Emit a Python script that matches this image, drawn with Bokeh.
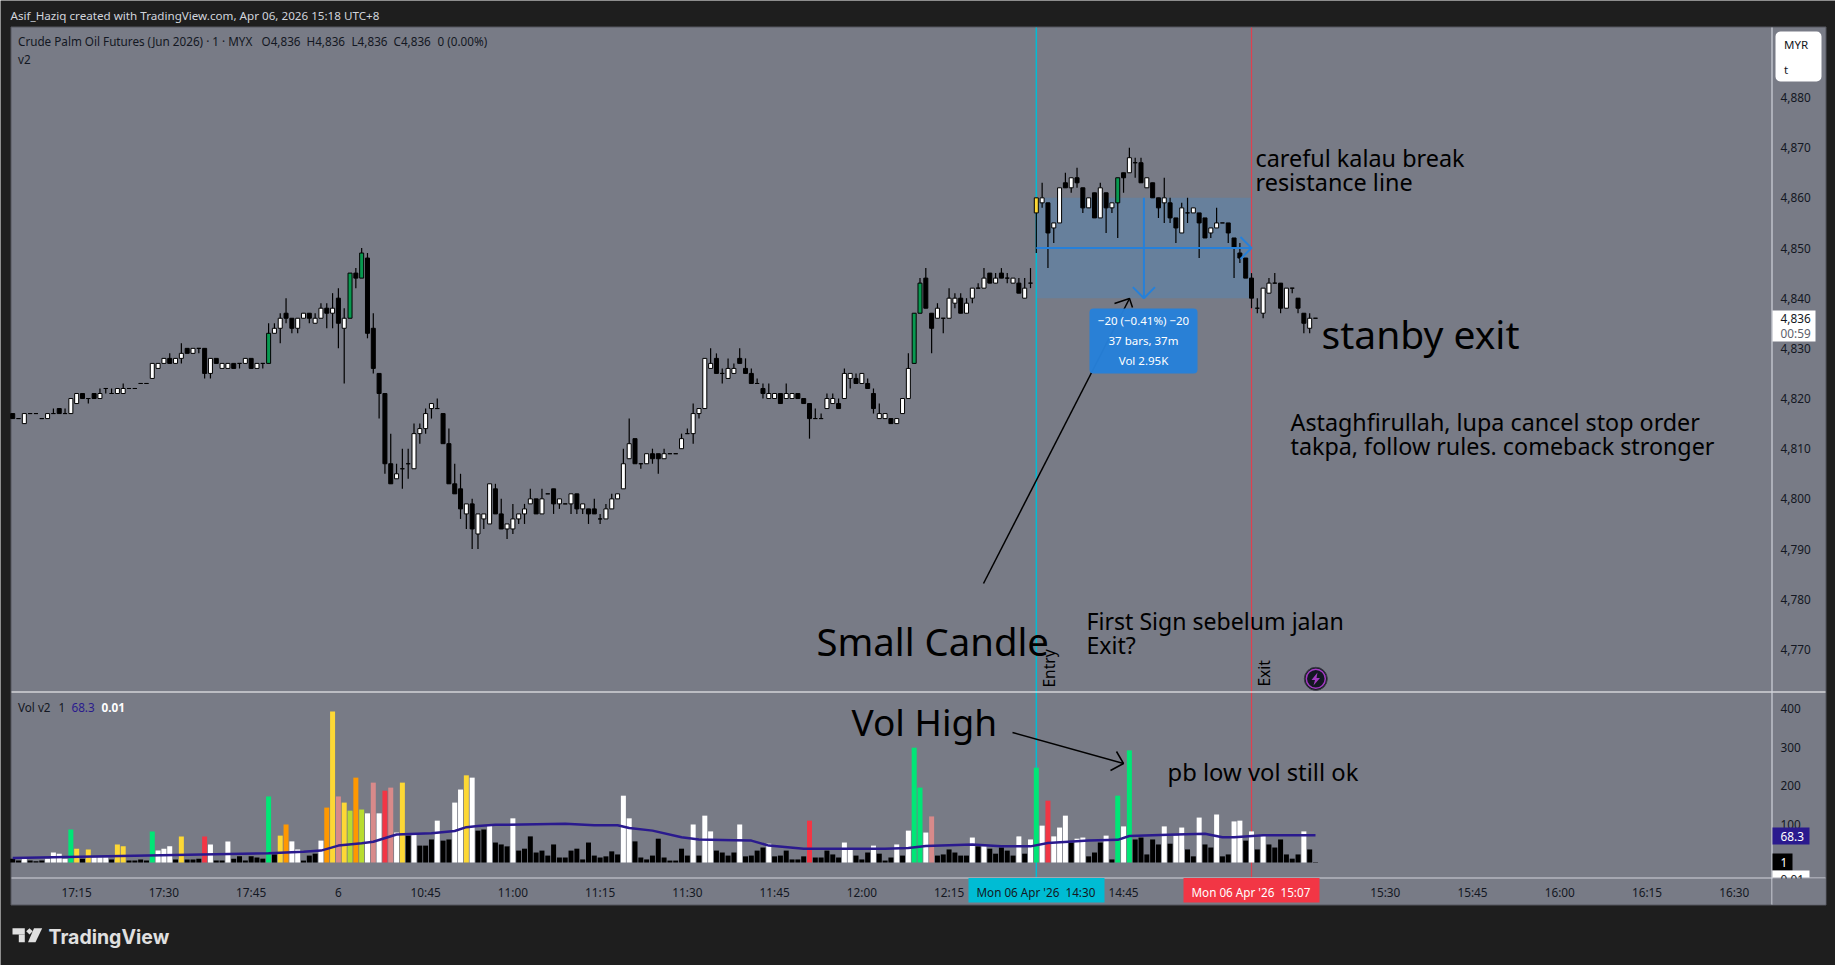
from bokeh.plotting import figure
from bokeh.embed import file_html
from bokeh.resources import INLINE
from bokeh.models import (Range1d, LinearAxis, FixedTicker, Label, BoxAnnotation,
                          PolyAnnotation, NumeralTickFormatter)

# ---- data ----
opens = [4817,4816,4815,4817,4817,4816,4816,4817,4818,4817,4817,4819,4821,4820,4821,4820,4822,4821,4821,4821,
 4822,4822,4823,4823,4824,4826,4827,4828,4827,4828,4830,4829,4830,4830,4825,4828,4826,4826,4827,4827,
 4827,4828,4826,4827,4827,4833,4834,4837,4836,4834,4836,4837,4835,4836,4838,4837,4840,4834,4836,4845,
 4844,4848,4834,4825,4821,4807,4804,4806,4807,4806,4813,4814,4818,4818,4817,4811,4803,4802,4797,4799,
 4793,4796,4795,4802,4797,4794,4794,4796,4797,4799,4800,4797,4801,4802,4799,4799,4799,4801,4798,4798,
 4798,4796,4796,4798,4800,4802,4808,4812,4807,4807,4809,4809,4808,4809,4809,4810,4813,4813,4817,4818,
 4826,4828,4825,4824,4825,4828,4826,4825,4823,4822,4820,4820,4821,4820,4820,4821,4820,4819,4816,4816,
 4818,4819,4819,4820,4824,4824,4823,4823,4821,4816,4816,4816,4815,4817,4820,4827,4837,4844,4837,4836,
 4836,4836,4839,4840,4837,4840,4842,4842,4845,4843,4845,4844,4843,4843,4840,4843,4857,4859,4859,4854,
 4855,4863,4862,4864,4862,4858,4861,4856,4861,4858,4859,4865,4865,4867,4867,4862,4863,4860,4859,4859,
 4856,4853,4857,4857,4857,4856,4853,4854,4855,4855,4852,4849,4848,4844,4838,4837,4841,4843,4843,4838,
 4842,4840,4837,4834,4836]
highs = [4817,4816,4817,4817,4817,4816,4817,4818,4818,4818,4820,4821,4821,4820,4821,4822,4822,4822,4822,4823,
 4822,4822,4823,4823,4827,4827,4828,4829,4828,4831,4830,4830,4830,4830,4828,4828,4827,4827,4827,4827,
 4828,4828,4827,4827,4835,4835,4837,4840,4836,4836,4837,4837,4837,4839,4839,4841,4842,4838,4845,4846,
 4850,4849,4837,4825,4821,4813,4807,4810,4810,4815,4815,4818,4819,4820,4817,4814,4807,4805,4799,4800,
 4797,4797,4803,4803,4800,4795,4799,4797,4799,4802,4800,4802,4801,4802,4800,4799,4801,4801,4799,4798,
 4800,4797,4799,4801,4801,4810,4816,4812,4807,4809,4810,4809,4810,4809,4809,4813,4814,4819,4818,4828,
 4830,4829,4826,4828,4827,4830,4828,4826,4824,4823,4823,4821,4821,4823,4821,4821,4820,4819,4818,4817,
 4821,4821,4820,4826,4825,4825,4825,4824,4822,4819,4817,4816,4816,4820,4829,4837,4844,4846,4837,4839,
 4836,4842,4841,4841,4840,4842,4843,4846,4845,4845,4846,4845,4844,4844,4844,4846,4860,4863,4859,4855,
 4862,4865,4864,4866,4862,4860,4861,4863,4861,4859,4864,4865,4870,4868,4868,4864,4863,4860,4864,4860,
 4856,4859,4860,4858,4857,4856,4854,4858,4855,4855,4852,4851,4848,4845,4840,4842,4844,4845,4843,4842,
 4842,4840,4837,4837,4836]
lows = [4816,4816,4815,4817,4817,4816,4816,4817,4817,4817,4817,4819,4820,4819,4820,4820,4821,4821,4821,4821,
 4822,4822,4823,4823,4824,4826,4827,4827,4827,4827,4829,4829,4829,4824,4824,4827,4826,4826,4826,4826,
 4827,4826,4826,4826,4827,4833,4831,4835,4833,4833,4836,4835,4835,4836,4834,4834,4830,4823,4836,4842,
 4844,4832,4825,4816,4805,4803,4804,4802,4804,4806,4811,4813,4816,4818,4811,4803,4801,4796,4794,4790,
 4790,4794,4795,4797,4794,4792,4793,4795,4795,4799,4797,4797,4801,4797,4798,4799,4797,4797,4797,4795,
 4797,4795,4796,4798,4800,4802,4808,4807,4806,4807,4807,4805,4808,4809,4809,4810,4813,4811,4816,4818,
 4826,4825,4823,4824,4825,4827,4825,4823,4823,4820,4820,4820,4819,4820,4820,4820,4819,4812,4816,4816,
 4818,4819,4818,4820,4822,4823,4823,4822,4817,4816,4816,4815,4815,4817,4820,4827,4837,4838,4829,4836,
 4833,4836,4838,4837,4837,4839,4842,4842,4843,4843,4844,4843,4843,4841,4840,4842,4849,4858,4846,4851,
 4855,4862,4861,4862,4857,4858,4856,4856,4853,4857,4852,4861,4865,4864,4863,4862,4860,4856,4855,4855,
 4851,4853,4855,4857,4848,4852,4852,4854,4855,4851,4844,4847,4844,4838,4837,4836,4841,4843,4837,4838,
 4841,4837,4833,4833,4836]
closes = [4816,4816,4817,4817,4817,4816,4817,4817,4817,4817,4820,4821,4820,4820,4820,4821,4822,4821,4822,4822,
 4822,4822,4823,4823,4827,4827,4828,4827,4828,4829,4829,4830,4830,4825,4828,4827,4827,4827,4826,4827,
 4828,4826,4827,4827,4833,4834,4836,4836,4834,4836,4837,4836,4836,4838,4837,4838,4835,4836,4845,4844,
 4849,4833,4826,4821,4807,4803,4805,4806,4807,4813,4814,4817,4819,4818,4811,4803,4801,4798,4799,4794,
 4797,4797,4803,4797,4794,4795,4796,4797,4798,4800,4797,4800,4801,4799,4800,4799,4801,4798,4799,4797,
 4797,4796,4798,4800,4801,4807,4811,4807,4807,4809,4808,4808,4809,4809,4809,4812,4813,4817,4818,4828,
 4827,4825,4825,4826,4826,4827,4825,4823,4823,4821,4821,4821,4819,4821,4821,4820,4819,4816,4816,4816,
 4820,4820,4818,4825,4825,4823,4825,4822,4818,4817,4817,4815,4816,4820,4826,4837,4843,4838,4834,4838,
 4836,4840,4840,4837,4839,4842,4842,4844,4843,4844,4844,4844,4844,4841,4842,4843,4860,4860,4853,4855,
 4862,4862,4864,4863,4858,4860,4856,4862,4858,4859,4864,4864,4868,4867,4863,4864,4860,4858,4860,4856,
 4854,4858,4857,4858,4855,4852,4854,4855,4855,4853,4850,4848,4844,4840,4838,4842,4843,4843,4838,4842,
 4842,4838,4835,4836,4836]
green_bars = [44,58,60,155,156,190]
gold_bars = [176]

volumes = [10,5,10,5,3,5,10,26,23,10,86,36,10,34,13,13,13,8,47,42,
 5,5,8,5,81,31,36,42,8,68,8,8,10,68,47,5,5,55,10,16,
 5,16,13,10,172,21,70,99,55,34,5,18,23,57,143,393,172,156,135,221,
 138,128,208,128,187,195,78,208,70,73,44,44,60,109,57,60,156,190,227,221,
 83,86,96,52,47,42,115,31,36,68,26,31,18,47,13,13,31,36,8,52,
 18,13,16,29,21,174,115,55,13,8,18,62,13,5,5,36,18,99,18,122,
 81,31,26,18,26,99,16,18,31,39,49,16,18,31,8,8,16,109,13,13,
 31,21,13,52,34,18,8,26,44,23,5,13,47,18,83,299,195,78,120,18,
 21,34,26,18,18,65,42,42,36,23,39,31,18,68,23,60,247,96,161,68,
 91,122,52,62,65,16,26,52,70,8,174,94,292,60,65,21,60,47,94,49,
 70,91,34,16,117,47,39,125,16,21,107,109,57,81,34,70,47,39,60,21,
 10,21,81,34,1]
K,W,G,Y,O_,P,L_,R = "#000000","#ffffff","#00e676","#fdd835","#ff9800","#d88a8a","#b8dc30","#f23645"
vol_colors = [K,K,W,K,K,K,W,W,W,W,G,Y,K,Y,W,W,W,K,Y,Y,
 K,K,K,K,G,W,W,W,K,Y,K,K,K,R,W,K,K,W,K,K,
 K,K,K,K,G,K,Y,O_,W,W,K,K,K,W,O_,Y,P,Y,L_,O_,
 L_,W,P,W,R,P,W,Y,K,W,K,K,K,W,K,K,W,W,Y,W,
 K,K,W,K,K,K,W,K,K,K,K,K,K,K,K,K,K,K,K,K,
 K,K,K,K,K,W,W,K,K,K,K,K,K,K,K,K,K,W,K,W,
 W,K,K,K,K,W,K,K,K,K,W,K,K,K,K,K,K,R,K,K,
 K,K,K,W,W,K,K,K,W,K,K,K,W,K,W,G,G,W,P,K,
 K,K,K,K,K,W,K,W,K,K,K,K,K,W,K,W,G,W,R,W,
 W,W,K,W,W,K,K,K,W,K,G,W,G,K,K,K,K,K,W,K,
 W,W,K,K,W,K,K,W,K,K,W,W,K,W,K,W,K,K,K,K,
 K,K,W,K,K]

ma_bars = [0,44,50,53,56,60,62,66,72,76,78,80,83,95,100,104,106,110,115,118,124,127,130,136,150,154,157,161,165,170,175,178,185,190,192,200,205,208,210,215,224]
ma_vals = [12,24,28,31,44,50,54,73,76,82,92,95,98,101,97,97,90,83,66,60,58,57,44,36,36,38,43,45,47,42,42,51,57,59,69,73,75,66,66,71,71]

price_ticks = [4770,4780,4790,4800,4810,4820,4830,4840,4850,4860,4870,4880]
vol_ticks = [100,200,300,400]
time_ticks = {11:"17:15",26:"17:30",41:"17:45",56:"6",71:"10:45",86:"11:00",101:"11:15",116:"11:30",
              131:"11:45",146:"12:00",161:"12:15",191:"14:45",236:"15:30",251:"15:45",266:"16:00",
              281:"16:15",296:"16:30"}
entry_bar, exit_bar = 176, 213
zone_top, zone_mid, zone_bottom = 4860, 4850, 4840

# ---- pixel <-> data helpers for annotations ----
X0, DX = 12.2, 5.816
PY0, PK = 97.0, 5.017
VB, VK = 862.0, 0.384
fx = lambda px: (px - X0) / DX
fy = lambda py: 4880 - (py - PY0) / PK
fv = lambda py: (VB - py) / VK

PANE = "#787b86"; DARK = "#1e1e1e"; INK = "#131722"; FONT = "Noto Sans"; BLUE = "#2680d9"

p = figure(width=1835, height=965, output_backend="svg", toolbar_location=None,
           x_range=Range1d(fx(0), fx(1835)), y_range=Range1d(fy(965), fy(0)),
           x_axis_type=None, y_axis_type=None,
           min_border_left=0, min_border_right=0, min_border_top=0, min_border_bottom=0)
p.extra_y_ranges = {"vol": Range1d(fv(965), fv(0))}
p.background_fill_color = DARK
p.border_fill_color = DARK
p.outline_line_color = None
p.grid.visible = False

# chart panel
p.quad(left=[fx(10.5)], right=[fx(1825.5)], top=[fy(26.5)], bottom=[fy(904.5)],
       fill_color=PANE, line_color="#55575e", line_width=1)

# trading zone
p.quad(left=[entry_bar], right=[exit_bar], top=[zone_top], bottom=[zone_bottom],
       fill_color="#2196f3", fill_alpha=0.2, line_color=None)
# vertical markers
p.segment([entry_bar], [fy(27)], [entry_bar], [fy(877)], line_color="#00bcd4", line_width=1.5)
p.segment([exit_bar], [fy(27)], [exit_bar], [fy(877)], line_color="#f23645", line_width=1.2, line_alpha=0.85)

# candles
n = len(closes)
xs = list(range(n))
p.segment(xs, highs, xs, lows, line_color="#000000", line_width=1.2)
body = []
for i in xs:
    if i in green_bars: body.append("#089950")
    elif i in gold_bars: body.append("#fdd835")
    elif closes[i] > opens[i]: body.append("#ffffff")
    else: body.append("#000000")
p.vbar(x=xs, top=opens, bottom=closes, width=0.69, fill_color=body, line_color="#000000", line_width=1)

# volume
vx = list(range(len(volumes)))
p.vbar(x=vx, top=volumes, bottom=[0]*len(vx), width=0.86, fill_color=vol_colors, line_color=None, y_range_name="vol")
p.line(ma_bars, ma_vals, line_color="#2a1a8e", line_width=2.5, y_range_name="vol")

# position tool
p.segment([entry_bar], [zone_mid], [exit_bar], [zone_mid], line_color=BLUE, line_width=2)
mid_bar = (entry_bar + exit_bar) / 2
p.segment([mid_bar], [zone_top], [mid_bar], [zone_bottom], line_color=BLUE, line_width=2)
p.line([mid_bar-1.9, mid_bar, mid_bar+1.9], [zone_bottom+2.2, zone_bottom, zone_bottom+2.2], line_color=BLUE, line_width=2)
p.line([exit_bar-1.9, exit_bar, exit_bar-1.9], [zone_mid+2.2, zone_mid, zone_mid-2.2], line_color=BLUE, line_width=2)

# hand drawn arrows
p.line([fx(983), fx(1129)], [fy(583), fy(298)], line_color="#000000", line_width=1.5)
p.line([fx(1114), fx(1129), fx(1132)], [fy(303), fy(298), fy(307)], line_color="#000000", line_width=1.5)
p.line([fx(1012), fx(1123)], [fy(732), fy(763)], line_color="#000000", line_width=1.5)
p.line([fx(1116), fx(1123), fx(1110)], [fy(751), fy(763), fy(770)], line_color="#000000", line_width=1.5)

# signal icon
p.scatter([fx(1315.3)], [fy(678.3)], size=23, marker="circle", fill_color="#131722", line_color="#3a3c44", line_width=1)
p.scatter([fx(1315.3)], [fy(678.3)], size=19, marker="circle", fill_color="#131722", line_color="#a13bc0", line_width=1.5)
p.patch([fx(v) for v in (1317,1311,1314.5,1313,1319.5,1316)],
        [fy(v) for v in (672,679.5,679.5,685,677.5,677.5)], fill_color="#a13bc0", line_color=None)

# pane separators
p.segment([fx(11)], [fy(691.5)], [fx(1825)], [fy(691.5)], line_color="#ffffff", line_width=1.2)
p.segment([fx(11)], [fy(877.5)], [fx(1825)], [fy(877.5)], line_color="#d1d4dc", line_width=1.2)
p.segment([fx(1771.5)], [fy(27)], [fx(1771.5)], [fy(904)], line_color="#d1d4dc", line_width=1.2)

# axes: pinned inside the frame so the whole panel stays grey
pa = LinearAxis(ticker=FixedTicker(ticks=price_ticks), formatter=NumeralTickFormatter(format="0,0"),
                fixed_location=fx(1774))
va = LinearAxis(ticker=FixedTicker(ticks=vol_ticks), y_range_name="vol", fixed_location=fx(1774))
ta = LinearAxis(ticker=FixedTicker(ticks=list(time_ticks)), major_label_overrides=time_ticks, fixed_location=fy(877))
for ax in (pa, va, ta):
    ax.axis_line_color = None
    ax.major_tick_line_color = None
    ax.minor_tick_line_color = None
    ax.major_label_text_font = FONT
    ax.major_label_text_font_size = "11.8px"
    ax.major_label_text_color = INK
    ax.major_label_standoff = 0
p.add_layout(pa, "right"); p.add_layout(va, "right"); p.add_layout(ta, "below")

def box(l, r, t, b, color, radius=0, alpha=1.0):
    p.add_layout(BoxAnnotation(left=fx(l), right=fx(r), top=fy(t), bottom=fy(b), fill_color=color,
                               fill_alpha=alpha, line_color=None, border_radius=radius))

def text(px, py, s, size=12, color=INK, align="left", bold=False, angle=0, font=FONT):
    p.add_layout(Label(x=fx(px), y=fy(py), text=s, text_font=font, text_font_size=f"{size}px", text_color=color,
                       text_align=align, text_baseline="middle",
                       text_font_style="bold" if bold else "normal", angle=angle, angle_units="deg"))

# header / legends
text(10, 14.5, "Asif_Haziq created with TradingView.com, Apr 06, 2026 15:18 UTC+8", 11.65, "#d1d4dc")
text(17.5, 40.5, "Crude Palm Oil Futures (Jun 2026) · 1 · MYX", 11.7)
for px, s in ((261,"O4,836"),(306,"H4,836"),(351,"L4,836"),(393,"C4,836"),(437,"0 (0.00%)")):
    text(px, 40.5, s, 11.7)
text(17.5, 58, "v2", 11.7)
text(17.5, 706.5, "Vol v2", 11.7); text(58, 706.5, "1", 11.7)
text(71, 706.5, "68.3", 11.7, "#2a1a8e"); text(101, 706.5, "0.01", 11.7, "#ffffff", bold=True)

# annotations
NOTE = "#000000"
text(816, 640, "Small Candle", 38.3, NOTE)
text(1255, 157, "careful kalau break", 23.4, NOTE)
text(1255, 181, "resistance line", 23.4, NOTE)
text(1321, 333, "stanby exit", 39, NOTE)
text(1290, 421, "Astaghfirullah, lupa cancel stop order", 23.3, NOTE)
text(1290, 445, "takpa, follow rules. comeback stronger", 23.3, NOTE)
text(1086, 620, "First Sign sebelum jalan", 23.1, NOTE)
text(1086, 644, "Exit?", 23.1, NOTE)
text(851, 721, "Vol High", 37, NOTE)
text(1167, 771, "pb low vol still ok", 23.8, NOTE)
text(1048, 687, "Entry", 15.5, NOTE, angle=90)
text(1263, 686, "Exit", 15.5, NOTE, angle=90)

# measure box
box(1089, 1197, 308, 373, BLUE, radius=4, alpha=0.97)
text(1143, 319.5, "−20 (−0.41%) −20", 11.5, "#ffffff", "center")
text(1143, 339.5, "37 bars, 37m", 11.5, "#ffffff", "center")
text(1143, 359.5, "Vol 2.95K", 11.5, "#ffffff", "center")

# time axis flags
box(968, 1104, 877.5, 902, "#00bcd4")
text(976, 891, "Mon 06 Apr '26", 11.7)
text(1065, 891, "14:30", 11.7)
box(1183, 1319, 877.5, 902, "#f23645")
text(1191, 891, "Mon 06 Apr '26", 11.7, "#ffffff")
text(1280, 891, "15:07", 11.7, "#ffffff")

# price scale badges
box(1775, 1821, 31, 81, "#ffffff", radius=5)
text(1783.5, 43.5, "MYR", 11.5); text(1783.5, 68.5, "t", 11.5)
box(1772, 1815, 310, 341, "#ffffff")
text(1780, 318, "4,836", 11.8); text(1780, 332, "00:59", 11.8, "#5d606b")
box(1772, 1809, 827, 844, "#2a1a8e")
text(1780, 835.5, "68.3", 11.8, "#ffffff")
box(1772, 1792, 853, 870, "#000000")
text(1780, 861.5, "1", 11.8, "#ffffff")
box(1772, 1809, 870, 877, "#ffffff")
text(1780, 878.5, "0.01", 11.8)
box(1772, 1825, 878, 904, PANE)

# footer logo + wordmark
box(12, 24.3, 927.7, 934, "#e0e0e0")
box(18.3, 24.3, 934, 941.7, "#e0e0e0")
p.add_layout(PolyAnnotation(xs=[fx(v) for v in (26,29,32,32,29,26)], ys=[fy(v) for v in (930.5,927.7,930.5,931,934,931)],
                            fill_color="#e0e0e0", fill_alpha=1, line_color=None))
p.add_layout(PolyAnnotation(xs=[fx(v) for v in (33.5,41.7,35,27.5)], ys=[fy(v) for v in (927.7,927.7,941.7,941.7)],
                            fill_color="#e0e0e0", fill_alpha=1, line_color=None))
text(48, 936, "TradingView", 19.5, "#e0e0e0", bold=True, font="Inter")

open("out.html", "w").write(file_html(p, INLINE))
